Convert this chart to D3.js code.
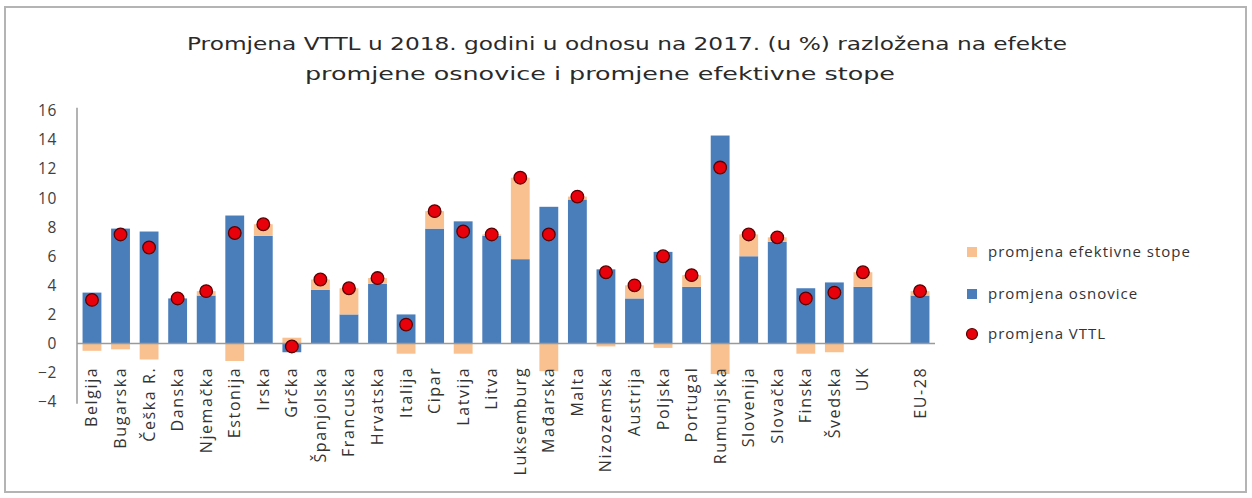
<!DOCTYPE html>
<html><head><meta charset="utf-8">
<script src="https://cdn.jsdelivr.net/npm/d3@7"></script>
<style>
body{margin:0;background:#fff;}
svg{display:block;}
</style></head>
<body>
<svg id="c" width="1252" height="498"></svg>
<script>
const categories = ["Belgija","Bugarska","Češka R.","Danska","Njemačka","Estonija","Irska","Grčka","Španjolska","Francuska","Hrvatska","Italija","Cipar","Latvija","Litva","Luksemburg","Mađarska","Malta","Nizozemska","Austrija","Poljska","Portugal","Rumunjska","Slovenija","Slovačka","Finska","Švedska","UK","","EU-28"];
const osnovice = [3.5,7.9,7.7,3.1,3.3,8.8,7.4,-0.6,3.7,2.0,4.1,2.0,7.9,8.4,7.4,5.8,9.4,9.9,5.1,3.1,6.3,3.9,14.3,6.0,7.0,3.8,4.2,3.9,null,3.3];
const efektivneStope = [-0.5,-0.4,-1.1,0,0.3,-1.2,0.8,0.4,0.7,1.8,0.4,-0.7,1.2,-0.7,0.1,5.6,-1.9,0.2,-0.2,0.9,-0.3,0.8,-2.1,1.5,0.3,-0.7,-0.6,1.0,null,0.3];
const vttl = [3.0,7.5,6.6,3.1,3.6,7.6,8.2,-0.2,4.4,3.8,4.5,1.3,9.1,7.7,7.5,11.4,7.5,10.1,4.9,4.0,6.0,4.7,12.1,7.5,7.3,3.1,3.5,4.9,null,3.6];
const yTicks = [-4,-2,0,2,4,6,8,10,12,14,16];
const titleLines = ["Promjena VTTL u 2018.  godini u odnosu na 2017. (u %) razložena na efekte","promjene osnovice i promjene efektivne stope"];
const legendLabels = ["promjena efektivne stope","promjena osnovice","promjena VTTL"];

const BLUE = "#4a7ebb", ORANGE = "#f9c18f";
const svg = d3.select("#c");

// frame
svg.append("rect").attr("x",5).attr("y",7).attr("width",1241).attr("height",485)
  .attr("fill","#fff").attr("stroke","#b4b4b4").attr("stroke-width",2);

// title
svg.append("text").attr("x",627).attr("y",50).attr("text-anchor","middle")
  .attr("font-family","DejaVu Sans").attr("font-size",17.5).attr("fill","#2a2a2a")
  .attr("textLength",880).attr("lengthAdjust","spacingAndGlyphs").text(titleLines[0]);
svg.append("text").attr("x",600).attr("y",80).attr("text-anchor","middle")
  .attr("font-family","DejaVu Sans").attr("font-size",17.5).attr("fill","#2a2a2a")
  .attr("textLength",590).attr("lengthAdjust","spacingAndGlyphs").text(titleLines[1]);

const x = d3.scaleBand().domain(d3.range(categories.length)).range([77.7,934.3]).paddingInner(0.34).paddingOuter(0.17);
const y = d3.scaleLinear().domain([-4,16]).range([401.7,110.8]);

// y axis
const yAxis = svg.append("g").attr("transform","translate(77,0)")
  .call(d3.axisLeft(y).tickValues(yTicks).tickSize(0).tickPadding(20).tickFormat(d3.format("d")));
yAxis.select(".domain").attr("stroke","#9a9a9a").attr("stroke-width",1.5)
  .attr("d","M0,"+(y(16)-3)+"V"+(y(-4)+2));
yAxis.selectAll("text").attr("font-family","Open Sans").attr("font-size",15.5)
  .attr("fill","#404040").attr("letter-spacing",0.6);

// stacked bars
const barData = [];
categories.forEach((c,i)=>{
  if(osnovice[i]===null) return;
  let pos=0, neg=0;
  [[osnovice[i],BLUE],[efektivneStope[i],ORANGE]].forEach(([v,col])=>{
    if(v>=0){ barData.push({i,y0:pos,y1:pos+v,col}); pos+=v; }
    else { barData.push({i,y0:neg+v,y1:neg,col}); neg+=v; }
  });
});
svg.append("g").selectAll("rect").data(barData).join("rect")
  .attr("x",d=>x(d.i)).attr("width",x.bandwidth())
  .attr("y",d=>y(d.y1)).attr("height",d=>Math.max(0,y(d.y0)-y(d.y1)))
  .attr("fill",d=>d.col);

// zero line
svg.append("line").attr("x1",77).attr("x2",935).attr("y1",y(0)).attr("y2",y(0))
  .attr("stroke","#9a9a9a").attr("stroke-width",1.5);

// dots
svg.append("g").selectAll("circle").data(vttl.map((v,i)=>({v,i})).filter(d=>d.v!==null)).join("circle")
  .attr("cx",d=>x(d.i)+x.bandwidth()/2).attr("cy",d=>y(d.v)).attr("r",6.3)
  .attr("fill","#e8000b").attr("stroke","#5a0000").attr("stroke-width",1.3);

// x labels
svg.append("g").selectAll("text").data(categories.map((c,i)=>({c,i}))).join("text")
  .attr("transform",d=>`translate(${x(d.i)+x.bandwidth()/2+5.5},${y(-4)-35}) rotate(-90)`)
  .attr("text-anchor","end").attr("font-family","Open Sans").attr("font-size",16)
  .attr("letter-spacing",1.6).attr("fill","#333").text(d=>d.c);

// legend
const lg = svg.append("g").attr("font-family","Open Sans").attr("font-size",15).attr("fill","#333");
const ly = [252,294,334];
lg.append("rect").attr("x",967).attr("y",ly[0]-5).attr("width",10).attr("height",10).attr("fill",ORANGE);
lg.append("rect").attr("x",967).attr("y",ly[1]-5).attr("width",10).attr("height",10).attr("fill",BLUE);
lg.append("circle").attr("cx",972).attr("cy",ly[2]).attr("r",5.5).attr("fill","#e8000b").attr("stroke","#5a0000").attr("stroke-width",1.2);
legendLabels.forEach((t,k)=>{
  lg.append("text").attr("x",988).attr("y",ly[k]).attr("dy","0.35em").attr("letter-spacing",1).text(t);
});
</script>
</body></html>
